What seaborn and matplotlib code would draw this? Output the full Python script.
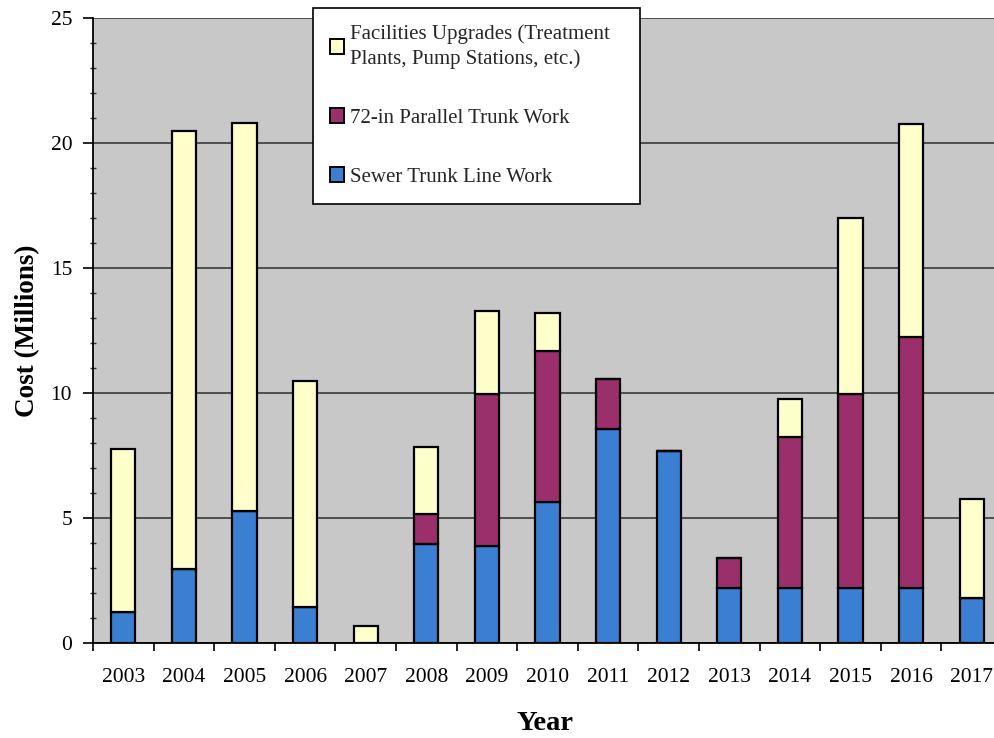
import matplotlib
matplotlib.use("Agg")
import matplotlib.pyplot as plt
from matplotlib.ticker import MultipleLocator, FixedLocator, NullFormatter
import seaborn as sns
import pandas as pd
import numpy as np

# Annual capital cost by program (millions of dollars)
years = ["2003", "2004", "2005", "2006", "2007", "2008", "2009", "2010",
         "2011", "2012", "2013", "2014", "2015", "2016", "2017"]
sewer_trunk = [1.25, 2.95, 5.3, 1.45, 0.0, 3.95, 3.9, 5.65,
               8.55, 7.7, 2.2, 2.2, 2.2, 2.2, 1.8]
parallel_trunk = [0.0, 0.0, 0.0, 0.0, 0.0, 1.2, 6.05, 6.05,
                  2.0, 0.0, 1.2, 6.05, 7.75, 10.05, 0.0]
facilities = [6.5, 17.55, 15.5, 9.05, 0.7, 2.7, 3.35, 1.5,
              0.0, 0.0, 0.0, 1.5, 7.05, 8.5, 3.95]

series_labels = ["Facilities Upgrades (Treatment\nPlants, Pump Stations, etc.)",
                 "72-in Parallel Trunk Work",
                 "Sewer Trunk Line Work"]
colors = {"sewer": "#3a7fd2", "parallel": "#9b2f6c", "facilities": "#ffffcc"}

df = pd.DataFrame({"year": years, "sewer": sewer_trunk,
                   "parallel": parallel_trunk, "facilities": facilities})
df["base_parallel"] = df["sewer"]
df["base_facilities"] = df["sewer"] + df["parallel"]

sns.set_theme(style="white")
plt.rcParams["font.family"] = ["Liberation Serif", "DejaVu Serif"]

fig = plt.figure(figsize=(9.95, 7.38), dpi=100)
ax = fig.add_axes([93 / 995, 95 / 738, 909 / 995, 625 / 738])
ax.set_facecolor("#c8c8c8")

bar_kw = dict(width=0.4, edgecolor="black", linewidth=1.6, saturation=1, zorder=3)
sns.barplot(data=df, x="year", y="sewer", color=colors["sewer"], ax=ax, **bar_kw)
sns.barplot(data=df, x="year", y="parallel", bottom=df["base_parallel"].values,
            color=colors["parallel"], ax=ax, **bar_kw)
sns.barplot(data=df, x="year", y="facilities", bottom=df["base_facilities"].values,
            color=colors["facilities"], ax=ax, **bar_kw)

ax.set_xlim(-0.5, len(years) - 0.5)
ax.set_ylim(0, 25)

# Horizontal gridlines
ax.yaxis.set_major_locator(MultipleLocator(5))
ax.yaxis.set_minor_locator(MultipleLocator(1))
ax.grid(axis="y", which="major", color="#3a3a3a", linewidth=1.2, zorder=1)
ax.grid(axis="x", visible=False)
ax.set_axisbelow(True)

for side in ["top", "right"]:
    ax.spines[side].set_visible(False)
for side in ["left", "bottom"]:
    ax.spines[side].set_color("black")
    ax.spines[side].set_linewidth(1.3)

# Category ticks: labels at centres, marks at boundaries
ax.xaxis.set_minor_locator(FixedLocator(np.arange(-0.5, len(years), 1.0)))
ax.xaxis.set_minor_formatter(NullFormatter())
ax.tick_params(axis="x", which="major", length=0, pad=18, labelsize=15.5, labelcolor="black")
ax.tick_params(axis="x", which="minor", length=6, width=1.2, direction="out", color="black", bottom=True)
ax.tick_params(axis="y", which="major", length=7, width=1.2, direction="out", color="black",
               pad=8, labelsize=15.5, labelcolor="black", left=True)
ax.tick_params(axis="y", which="minor", length=4, width=1.0, direction="inout", color="#333333", left=True)

ax.set_xlabel("Year", fontsize=20.5, fontweight="bold", color="black")
ax.set_ylabel("Cost (Millions)", fontsize=19.5, fontweight="bold", color="black")
ax.xaxis.set_label_coords(0.497, -0.108)
ax.yaxis.set_label_coords(-0.058, 0.499)

# Legend: facilities on top, sewer at the bottom
handles = [ax.containers[2].patches[0], ax.containers[1].patches[0], ax.containers[0].patches[0]]
leg = ax.legend(handles, series_labels, loc="upper left",
                bbox_to_anchor=(0.242, 0.70, 0.36, 0.316), mode="expand",
                fontsize=15, frameon=True, fancybox=False, shadow=False,
                framealpha=1, edgecolor="black", facecolor="white",
                handlelength=0.7, handleheight=0.7, handletextpad=0.3,
                labelspacing=1.9, borderpad=0.8, borderaxespad=0)
leg.get_frame().set_linewidth(1.2)
for t in leg.get_texts():
    t.set_linespacing(1.3)
for h in leg.legend_handles:
    h.set_linewidth(1.4)

fig.savefig("out.png", dpi=100, facecolor="white")
